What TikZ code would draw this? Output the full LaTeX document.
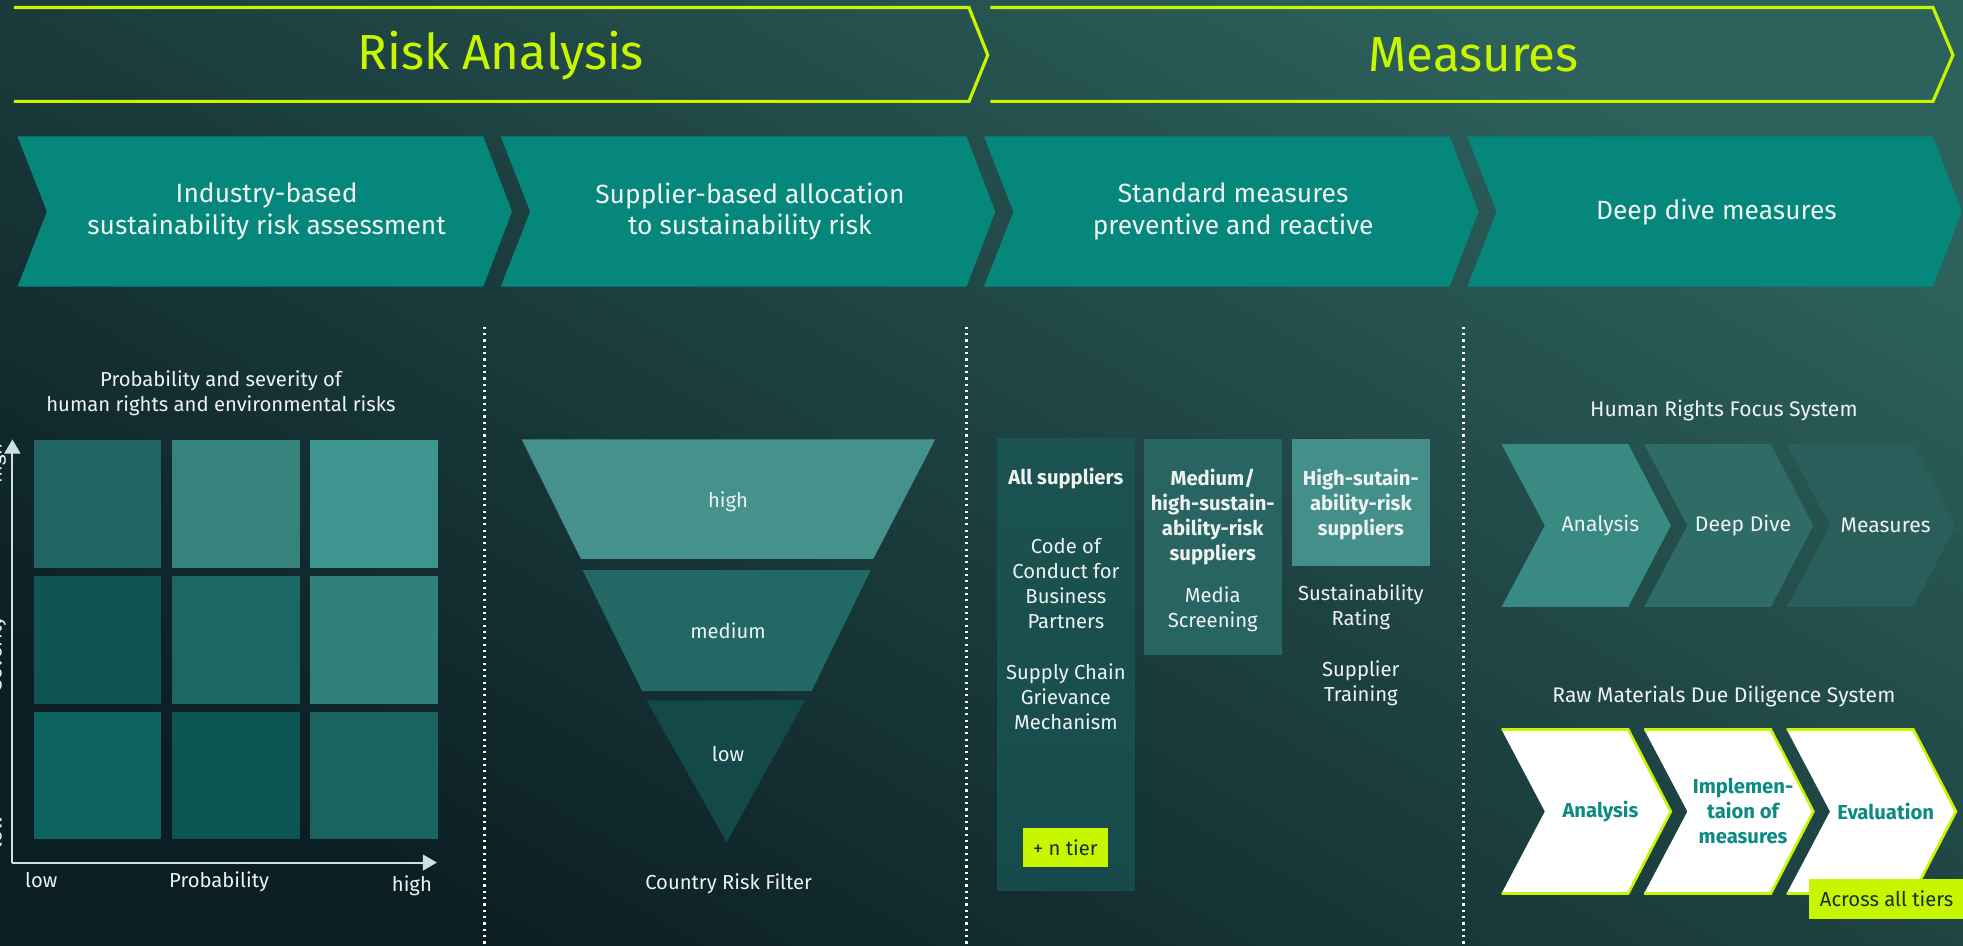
\documentclass[tikz,border=0pt]{standalone}
\usepackage{fontspec}
\setmainfont{Fira Sans}
\usepackage{tikz}
\usetikzlibrary{arrows.meta,positioning,calc}

\definecolor{bgdark}{HTML}{0B1E23}
\definecolor{bglight}{HTML}{2D615C}
\definecolor{signal}{HTML}{C8F500}
\definecolor{phaseteal}{HTML}{05877C}
\definecolor{inktext}{HTML}{EEF3F2}
\definecolor{darkink}{HTML}{16302F}
\definecolor{rmteal}{HTML}{0B8B82}
\definecolor{funhigh}{HTML}{44928B}
\definecolor{funmed}{HTML}{236864}
\definecolor{funlow}{HTML}{134948}
\definecolor{colalltop}{HTML}{1B5351}
\definecolor{colallbot}{HTML}{174B4B}
\definecolor{colmed}{HTML}{286562}
\definecolor{colhigh}{HTML}{458F8A}
\definecolor{hrA}{HTML}{3A8A84}
\definecolor{hrB}{HTML}{2F6B67}
\definecolor{hrC}{HTML}{2A5E5A}

\begin{document}
\begin{tikzpicture}[x=0.025cm, y=-0.025cm,
    title/.style={signal, font=\fontsize{28}{30}\selectfont},
    phasetxt/.style={inktext, align=center, font=\fontsize{15}{17.8}\selectfont},
    txt/.style={inktext, align=center, font=\fontsize{11.5}{14.2}\selectfont},
    head/.style={inktext, align=center, font=\fontsize{11.5}{14.2}\selectfont\bfseries},
    rmtxt/.style={rmteal, align=center, font=\fontsize{11.5}{14.2}\selectfont\bfseries},
    divider/.style={white, line width=1.2pt, dash pattern=on 1.2pt off 2.4pt},
    arrowaxis/.style={inktext!85!phaseteal, line width=1.1pt, -{Triangle[width=9pt,length=8pt]}},
    cell/.style={minimum width=2.55cm, minimum height=2.55cm, inner sep=0pt, anchor=north west},
    limetag/.style={fill=signal, text=darkink, inner sep=0pt, font=\fontsize{11.5}{14}\selectfont}]

  % background
  \shade[top color=bglight, bottom color=bgdark, shading angle=-30] (0,0) rectangle (1568,755);
  \useasboundingbox (0,0) rectangle (1568,755);

  % top banners
  \draw[signal, line width=1.8pt] (11,6) -- (774,6) -- (789,44) -- (774,81) -- (11,81);
  \draw[signal, line width=1.8pt] (791,6) -- (1544,6) -- (1560,44) -- (1544,81) -- (791,81);
  \node[title] (riskhead) at (400,44) {Risk Analysis};
  \node[title] (meashead) at (1177,44) {Measures};

  % phase chevrons
  \foreach \i/\lbl in {0/{Industry-based\\sustainability risk assessment},
                       1/{Supplier-based allocation\\to sustainability risk},
                       2/{Standard measures\\preventive and reactive},
                       3/{Deep dive measures}}{
    \pgfmathsetmacro\L{14+386*\i}
    \fill[phaseteal] (\L,109) -- ++(372,0) -- ++(23,60) -- ++(-23,60) -- ++(-372,0) -- ++(23.5,-60) -- cycle;
    \node[phasetxt] (phase\i) at (\L+199,169) {\lbl};
  }

  \foreach \x in {387,772,1169}
    \draw[divider] (\x,261) -- (\x,755);

  % risk matrix
  \node[txt] (mattitle) at (176.5,314) {Probability and severity of\\human rights and environmental risks};
  \foreach \r/\c/\hex in {0/0/1E6563, 0/1/36837D, 0/2/3E958F,
                          1/0/0E5553, 1/1/1C6663, 1/2/32807A,
                          2/0/0D6360, 2/1/0C5553, 2/2/1B6361}{
    \definecolor{cellfill}{HTML}{\hex}
    \node[cell, fill=cellfill] (cell\r\c) at (26.5+110.5*\c,351.5+108.3*\r) {};
  }
  \coordinate (origin) at (9.9,689);
  \coordinate (ytip) at (9.9,351);
  \coordinate (xtip) at (349,689);
  \draw[arrowaxis] (origin) -- (ytip);
  \draw[arrowaxis] (origin) -- (xtip);
  \node[txt, anchor=base] (plow) at (33,709) {low};
  \node[txt, anchor=base] (pname) at (175,709) {Probability};
  \node[txt, anchor=base] (phigh) at (329,712) {high};
  \node[txt, rotate=90, anchor=base] (shigh) at (1.2,370) {high};
  \node[txt, rotate=90, anchor=base] (sname) at (1.2,522) {Severity};
  \node[txt, rotate=90, anchor=base] (slow) at (1.2,665) {low};

  % funnel
  \fill[funhigh] (416.7,351) -- (747,351) -- (697.5,446.5) -- (464,446.5) -- cycle;
  \fill[funmed] (465.4,455.5) -- (695.4,455.5) -- (648.3,552) -- (513,552) -- cycle;
  \fill[funlow] (516.5,559.5) -- (643,559.5) -- (580.4,672.7) -- cycle;
  \node[txt] (fhigh) at (581.5,401) {high};
  \node[txt] (fmed) at (581.5,504) {medium};
  \node[txt] (flow) at (581.5,602.6) {low};
  \node[txt] (filter) at (582,706) {Country Risk Filter};

  % standard measures columns
  \shade[top color=colalltop, bottom color=colallbot] (796.3,350.6) rectangle (906.5,711.5);
  \fill[colmed] (913.7,350.6) rectangle (1023.7,523);
  \fill[colhigh] (1031.9,350.6) rectangle (1142.2,452);
  \node[head] (allsup) at (851.4,382.6) {All suppliers};
  \node[txt] (coc) at (851.4,465.8) {Code of\\Conduct for\\Business\\Partners};
  \node[txt] (grievance) at (851.4,556.5) {Supply Chain\\Grievance\\Mechanism};
  \node[limetag, minimum width=1.69cm, minimum height=0.785cm] (ntier) at (851,677) {+ n tier};
  \node[head] (medsup) at (968.7,413.2) {Medium/\\high-sustain-\\ability-risk\\suppliers};
  \node[txt] (media) at (968.7,486.4) {Media\\Screening};
  \node[head] (highsup) at (1087,403.2) {High-sutain-\\ability-risk\\suppliers};
  \node[txt] (rating) at (1087,485.4) {Sustainability\\Rating};
  \node[txt] (training) at (1087,546) {Supplier\\Training};

  % deep dive systems
  \node[txt, font=\fontsize{12}{14}\selectfont] (hrtitle) at (1377,328) {Human Rights Focus System};
  \foreach \i/\fc/\lbl in {0/hrA/Analysis, 1/hrB/Deep Dive, 2/hrC/Measures}{
    \pgfmathsetmacro\L{1199.4+113.9*\i}
    \fill[\fc] (\L,354.8) -- ++(101.2,0) -- ++(34,65) -- ++(-34,65) -- ++(-101.2,0) -- ++(34.6,-65) -- cycle;
    \node[txt, font=\fontsize{12}{14}\selectfont] (hr\i) at (\L+79,419.8) {\lbl};
  }
  \node[txt, font=\fontsize{12}{14}\selectfont] (rmtitle) at (1377,556) {Raw Materials Due Diligence System};
  \foreach \i/\lbl in {0/Analysis, 1/{Implemen-\\taion of\\measures}, 2/Evaluation}{
    \pgfmathsetmacro\L{1199.4+113.9*\i}
    \fill[white] (\L,582.7) -- ++(101.2,0) -- ++(34,65.5) -- ++(-34,65.5) -- ++(-101.2,0) -- ++(34.6,-65.5) -- cycle;
    \draw[signal, line width=1.5pt] (\L,582.7) -- ++(101.2,0) -- ++(34,65.5) -- ++(-34,65.5) -- ++(-101.2,0);
    \node[rmtxt] (rm\i) at (\L+79,648) {\lbl};
  }
  \node[limetag, minimum width=3.1cm, minimum height=0.8cm] (alltiers) at (1507,718) {Across all tiers};
\end{tikzpicture}
\end{document}
